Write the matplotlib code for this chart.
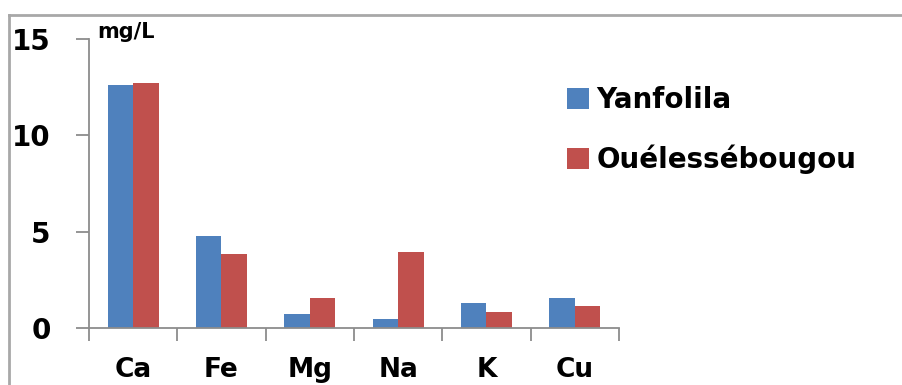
import matplotlib
matplotlib.use("Agg")
import matplotlib.pyplot as plt
import numpy as np
from matplotlib.lines import Line2D

categories = ["Ca", "Fe", "Mg", "Na", "K", "Cu"]
yanfolila = [12.6, 4.8, 0.75, 0.45, 1.28, 1.58]
ouelessebougou = [12.7, 3.85, 1.58, 3.97, 0.85, 1.16]
series_names = ["Yanfolila", "Ouélessébougou"]
yticks = [0, 5, 10, 15]

blue = "#4F81BD"
red = "#C0504D"
axis_gray = "#8c8c8c"

W, H = 903, 385
fig = plt.figure(figsize=(W / 100, H / 100), dpi=100)
fig.patch.set_facecolor("white")

left, right, bottom_px, top_px = 89, 619, 328, 39
ax = fig.add_axes([left / W, (H - bottom_px) / H, (right - left) / W, (bottom_px - top_px) / H])

x = np.arange(len(categories))
w = 0.29
ax.bar(x - w / 2, yanfolila, width=w, color=blue, label=series_names[0])
ax.bar(x + w / 2, ouelessebougou, width=w, color=red, label=series_names[1])

ax.set_xlim(-0.5, len(categories) - 0.5)
ax.set_ylim(0, 15)
ax.spines["top"].set_visible(False)
ax.spines["right"].set_visible(False)
for s in ("left", "bottom"):
    ax.spines[s].set_color(axis_gray)
    ax.spines[s].set_linewidth(1.3)

ax.set_yticks(yticks)
ax.set_yticklabels([str(v) for v in yticks], fontsize=20, fontweight="heavy", family="DejaVu Sans")
ax.tick_params(axis="y", direction="out", length=9.5, width=1.3, color=axis_gray, pad=18)

ax.set_xticks(x)
ax.set_xticklabels(categories, fontsize=19, fontweight="heavy", family="DejaVu Sans")
ax.tick_params(axis="x", which="major", length=0, pad=21)
ax.set_xticks(np.arange(-0.5, len(categories)), minor=True)
ax.tick_params(axis="x", which="minor", direction="out", length=9, width=1.3, color=axis_gray)

fig.text(97 / W, 1 - 32 / H, "mg/L", fontsize=15, fontweight="heavy", va="center", ha="left")

leg = fig.legend(loc="upper left", bbox_to_anchor=(567 / W, 1 - 86 / H), frameon=False,
                 prop={"weight": "heavy", "size": 20}, handlelength=0.8, handleheight=0.8,
                 handletextpad=0.25, labelspacing=1.1, borderaxespad=0, borderpad=0)

# outer frame (top and left edges)
fig.add_artist(Line2D([9 / W, 1.0], [1 - 15 / H, 1 - 15 / H], color="#a8a8a8", lw=2, transform=fig.transFigure))
fig.add_artist(Line2D([9 / W, 9 / W], [0, 1 - 15 / H], color="#a8a8a8", lw=2, transform=fig.transFigure))

fig.savefig("out.png", dpi=100, facecolor="white")
